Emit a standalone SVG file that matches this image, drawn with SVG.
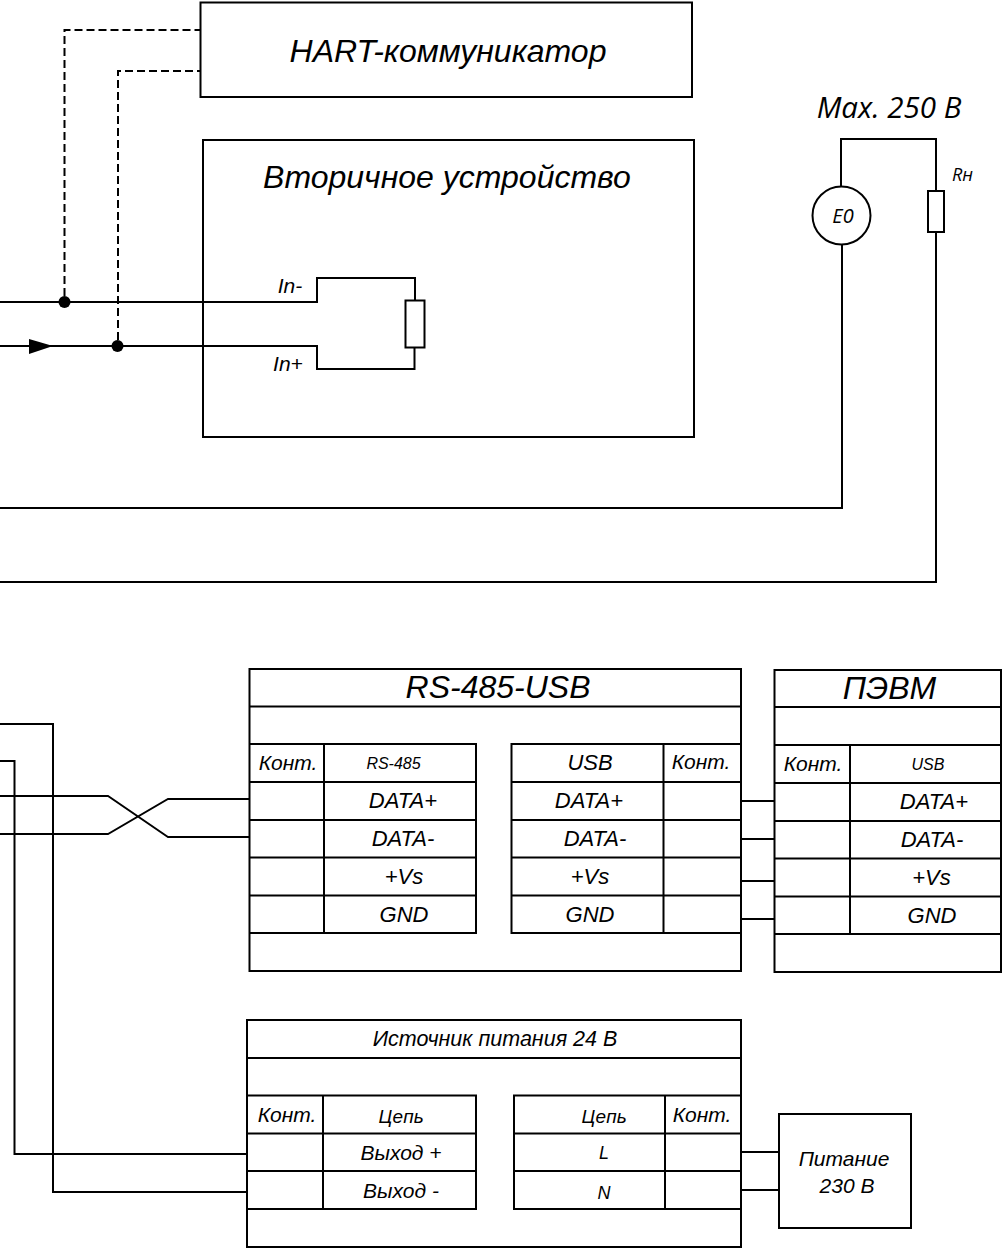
<svg xmlns="http://www.w3.org/2000/svg" width="1004" height="1260" viewBox="0 0 1004 1260">
<style>
.b{fill:#fff;stroke:#000;stroke-width:2}
.l{fill:none;stroke:#000;stroke-width:2}
.n{fill:none;stroke:#000;stroke-width:1.8}
.d{fill:none;stroke:#000;stroke-width:2;stroke-dasharray:8 4}
text{font-family:"Liberation Sans",Arial,sans-serif;font-style:italic;fill:#000;text-anchor:middle}
.o{font-family:"Open Sans","Noto Sans",sans-serif}
.t22{font-size:22px}.t21{font-size:21px}.t32{font-size:32px}
</style>
<rect width="1004" height="1260" fill="#fff"/>
<g id="hart"><rect class="b" x="200.5" y="2.5" width="491.5" height="94.5"/><text class="t32" x="448" y="62">HART-коммуникатор</text></g>
<g id="secondary"><rect class="b" x="203" y="140" width="491" height="297"/><text class="t32" x="447" y="188">Вторичное устройство</text>
<text class="t21" x="290" y="293">In-</text><text class="t21" x="288" y="371">In+</text>
<rect class="b" x="405.5" y="300.5" width="19" height="47"/></g>
<g id="source"><text class="o" x="889" y="118" font-size="29.500">Max. 250 В</text>
<circle class="b" cx="841.5" cy="215.5" r="29"/><text class="o" x="843" y="223" font-size="20">E0</text></g>
<g id="load"><rect class="b" x="928" y="191" width="16" height="41"/><text class="o" x="962.500" y="181" font-size="18">Rн</text></g>
<g id="connectors">
<path class="l" d="M0 302H317V278H415V300M0 346H317V369H414.500V347"/>
<path class="d" d="M64.500 296V30H200M118 340V71H200"/>
<path class="l" d="M841 186V139H936V191M936 232V582H0M842 244V508H0"/>
<path class="n" d="M0 796H108L168 837H249M0 834H108L168 799H249"/>
<path class="l" d="M0 724H53V1192H247M0 761H14.500V1154H247"/>
<path class="n" d="M741 801H774M741 839H774M741 881H774M741 919H774M741 1152H779M741 1190H779"/>
<polygon points="29,339 53,346 29,354" fill="#000"/>
<circle cx="64.500" cy="302" r="6" fill="#000"/><circle cx="117.500" cy="346" r="6" fill="#000"/>
</g>
<g id="rs485usb"><rect class="b" x="249.500" y="669" width="491.500" height="302"/><path class="l" d="M249.500 706.500H741"/>
<text class="t32" x="498" y="698">RS-485-USB</text>
<path class="l" d="M249.500 744H476V933H249.500M249.500 782H476M249.500 820H476M249.500 857.500H476M249.500 895.500H476M324 744V933"/>
<path class="l" d="M741 744H511.500V933H741M511.500 782H741M511.500 820H741M511.500 857.500H741M511.500 895.500H741M663.500 744V933"/>
<text class="t21" x="288" y="770">Конт.</text><text x="393.500" y="769" font-size="16">RS-485</text>
<text class="t22" x="403" y="808">DATA+</text><text class="t22" x="403" y="846">DATA-</text><text class="t22" x="404" y="884">+Vs</text><text class="t22" x="404" y="922">GND</text>
<text class="t22" x="590" y="770">USB</text><text class="t21" x="701" y="769">Конт.</text>
<text class="t22" x="589" y="808">DATA+</text><text class="t22" x="595" y="846">DATA-</text><text class="t22" x="590" y="884">+Vs</text><text class="t22" x="590" y="922">GND</text></g>
<g id="pc"><rect class="b" x="774.500" y="670" width="226.500" height="302"/><path class="l" d="M774.500 707H1001"/>
<text class="t32" x="889.500" y="699">ПЭВМ</text>
<path class="l" d="M774.500 745H1001M774.500 783H1001M774.500 821H1001M774.500 858.500H1001M774.500 896.500H1001M774.500 934H1001M850 745V934"/>
<text class="t21" x="813" y="771">Конт.</text><text x="928" y="770" font-size="16">USB</text>
<text class="t22" x="934" y="809">DATA+</text><text class="t22" x="932" y="847">DATA-</text><text class="t22" x="931.500" y="885">+Vs</text><text class="t22" x="932" y="923">GND</text></g>
<g id="psu"><rect class="b" x="247" y="1020" width="494" height="227"/><path class="l" d="M247 1058H741"/>
<text x="495" y="1046" font-size="21.500">Источник питания 24 В</text>
<path class="l" d="M247 1095.500H476V1209H247M247 1133.500H476M247 1171H476M323 1095.500V1209"/>
<path class="l" d="M741 1095.500H514V1209H741M514 1133.500H741M514 1171H741M665 1095.500V1209"/>
<text class="t21" x="287" y="1122">Конт.</text><text x="401" y="1123" font-size="19">Цепь</text>
<text class="t21" x="401" y="1160">Выход +</text><text class="t21" x="401" y="1198">Выход -</text>
<text x="604" y="1123" font-size="19">Цепь</text><text class="t21" x="702" y="1122">Конт.</text>
<text x="604" y="1159" font-size="18">L</text><text x="604" y="1199" font-size="18">N</text></g>
<g id="mains"><rect class="b" x="779" y="1114" width="132" height="114"/>
<text class="t21" x="844" y="1166">Питание</text><text class="t21" x="847" y="1193">230 В</text></g>
</svg>
